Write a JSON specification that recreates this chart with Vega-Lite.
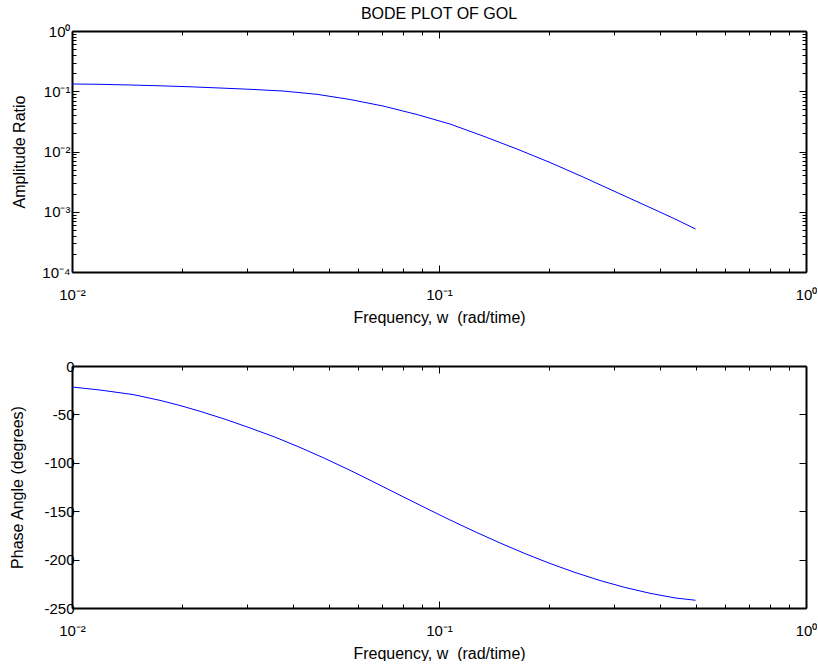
{
  "$schema": "https://vega.github.io/schema/vega-lite/v6.json",
  "background": "white",
  "padding": {"left": 9, "top": 6, "right": 0, "bottom": 0},
  "spacing": 94,
  "bounds": "flush",
  "config": {
    "view": {"stroke": null},
    "font": "Liberation Sans",
    "axis": {"grid": false, "domainColor": "black", "domainWidth": 2, "tickColor": "black", "tickWidth": 1, "labelColor": "black", "titleColor": "black", "labelFontSize": 15, "titleFontSize": 16, "titleFontWeight": "normal", "labelOverlap": false, "labelFlush": false, "labelFont": "Liberation Sans", "titleFont": "Liberation Sans"},
    "title": {"font": "Liberation Sans", "fontSize": 16, "fontWeight": "normal", "color": "black"}
  },
  "datasets": {
    "amp": [
      {"w": 0.01, "amp": 0.1319},
      {"w": 0.01192, "amp": 0.1304},
      {"w": 0.01439, "amp": 0.1270},
      {"w": 0.01737, "amp": 0.1231},
      {"w": 0.02097, "amp": 0.1186},
      {"w": 0.02531, "amp": 0.1132},
      {"w": 0.03055, "amp": 0.1077},
      {"w": 0.03758, "amp": 0.1009},
      {"w": 0.04652, "amp": 0.0890},
      {"w": 0.0572, "amp": 0.0730},
      {"w": 0.07037, "amp": 0.0569},
      {"w": 0.0871, "amp": 0.0411},
      {"w": 0.1071, "amp": 0.0286},
      {"w": 0.1318, "amp": 0.01808},
      {"w": 0.1631, "amp": 0.01100},
      {"w": 0.2007, "amp": 0.00657},
      {"w": 0.2469, "amp": 0.003773},
      {"w": 0.3055, "amp": 0.002087},
      {"w": 0.3758, "amp": 0.001176},
      {"w": 0.4397, "amp": 0.000758},
      {"w": 0.5, "amp": 0.000517}
    ],
    "phase": [
      {"w": 0.01, "phase": -21.7},
      {"w": 0.01192, "phase": -24.8},
      {"w": 0.01466, "phase": -29.5},
      {"w": 0.01737, "phase": -35.5},
      {"w": 0.01969, "phase": -40.8},
      {"w": 0.02233, "phase": -46.8},
      {"w": 0.02614, "phase": -55},
      {"w": 0.03055, "phase": -64},
      {"w": 0.03576, "phase": -73.5},
      {"w": 0.0418, "phase": -84.1},
      {"w": 0.04887, "phase": -95.5},
      {"w": 0.0572, "phase": -107.7},
      {"w": 0.06693, "phase": -120.5},
      {"w": 0.0783, "phase": -133.5},
      {"w": 0.09166, "phase": -146.4},
      {"w": 0.1071, "phase": -159},
      {"w": 0.1254, "phase": -171.2},
      {"w": 0.1466, "phase": -182.8},
      {"w": 0.1716, "phase": -193.8},
      {"w": 0.2007, "phase": -204},
      {"w": 0.2348, "phase": -213.3},
      {"w": 0.2746, "phase": -221.6},
      {"w": 0.3213, "phase": -228.8},
      {"w": 0.3758, "phase": -234.8},
      {"w": 0.4397, "phase": -239.6},
      {"w": 0.5, "phase": -242}
    ]
  },
  "vconcat": [
    {
      "width": 734,
      "height": 241,
      "data": {"name": "amp"},
      "title": {"text": "BODE PLOT OF GOL", "offset": -11, "baseline": "alphabetic", "frame": "group"},
      "layer": [
        {
          "mark": {"type": "line", "color": "#0000ff", "strokeWidth": 1},
          "encoding": {
            "x": {"field": "w", "type": "quantitative", "scale": {"type": "log", "domain": [0.01, 1], "nice": false},
              "axis": {"orient": "bottom", "values": [0.01,0.02,0.03,0.04,0.05,0.06,0.07,0.08,0.09,0.1,0.2,0.3,0.4,0.5,0.6,0.7,0.8,0.9,1],
                "labelExpr": "datum.value==1?'10⁰':datum.value==0.1?'10⁻¹':datum.value==0.01?'10⁻²':''",
                "tickSize": {"condition": {"test": "datum.value==1||datum.value==0.1||datum.value==0.01", "value": -7}, "value": -4},
                "labelPadding": 34, "labelBaseline": "alphabetic",
                "title": "Frequency, w\u00a0 (rad/time)", "titleY": 50, "titleBaseline": "alphabetic"}},
            "y": {"field": "amp", "type": "quantitative", "scale": {"type": "log", "domain": [0.0001, 1], "nice": false},
              "axis": {"orient": "left", "values": [0.0001,0.0002,0.0003,0.0004,0.0005,0.0006,0.0007,0.0008,0.0009,0.001,0.002,0.003,0.004,0.005,0.006,0.007,0.008,0.009,0.01,0.02,0.03,0.04,0.05,0.06,0.07,0.08,0.09,0.1,0.2,0.3,0.4,0.5,0.6,0.7,0.8,0.9,1],
                "labelExpr": "datum.value==1?'10⁰':datum.value==0.1?'10⁻¹':datum.value==0.01?'10⁻²':datum.value==0.001?'10⁻³':datum.value==0.0001?'10⁻⁴':''",
                "tickSize": {"condition": {"test": "datum.value==1||datum.value==0.1||datum.value==0.01||datum.value==0.001||datum.value==0.0001", "value": -7}, "value": -4},
                "labelPadding": 9, "labelAlign": "right", "labelBaseline": "middle",
                "title": "Amplitude Ratio", "titleX": -53, "titleY": 120.5, "titleBaseline": "middle", "titleAlign": "center", "titleAngle": -90}}
          }
        },
        {
          "mark": {"type": "line", "opacity": 0},
          "encoding": {
            "x": {"field": "w", "type": "quantitative", "scale": {"type": "log", "domain": [0.01, 1], "nice": false},
              "axis": {"orient": "top", "values": [0.01,0.02,0.03,0.04,0.05,0.06,0.07,0.08,0.09,0.1,0.2,0.3,0.4,0.5,0.6,0.7,0.8,0.9,1],
                "labels": false, "title": null,
                "tickSize": {"condition": {"test": "datum.value==1||datum.value==0.1||datum.value==0.01", "value": -7}, "value": -4}}},
            "y": {"field": "amp", "type": "quantitative", "scale": {"type": "log", "domain": [0.0001, 1], "nice": false},
              "axis": {"orient": "right", "values": [0.0001,0.0002,0.0003,0.0004,0.0005,0.0006,0.0007,0.0008,0.0009,0.001,0.002,0.003,0.004,0.005,0.006,0.007,0.008,0.009,0.01,0.02,0.03,0.04,0.05,0.06,0.07,0.08,0.09,0.1,0.2,0.3,0.4,0.5,0.6,0.7,0.8,0.9,1],
                "labels": false, "title": null,
                "tickSize": {"condition": {"test": "datum.value==1||datum.value==0.1||datum.value==0.01||datum.value==0.001||datum.value==0.0001", "value": -7}, "value": -4}}}
          }
        }
      ],
      "resolve": {"axis": {"x": "independent", "y": "independent"}}
    },
    {
      "width": 734,
      "height": 242,
      "data": {"name": "phase"},
      "layer": [
        {
          "mark": {"type": "line", "color": "#0000ff", "strokeWidth": 1},
          "encoding": {
            "x": {"field": "w", "type": "quantitative", "scale": {"type": "log", "domain": [0.01, 1], "nice": false},
              "axis": {"orient": "bottom", "values": [0.01,0.02,0.03,0.04,0.05,0.06,0.07,0.08,0.09,0.1,0.2,0.3,0.4,0.5,0.6,0.7,0.8,0.9,1],
                "labelExpr": "datum.value==1?'10⁰':datum.value==0.1?'10⁻¹':datum.value==0.01?'10⁻²':''",
                "tickSize": {"condition": {"test": "datum.value==1||datum.value==0.1||datum.value==0.01", "value": -7}, "value": -4},
                "labelPadding": 34, "labelBaseline": "alphabetic",
                "title": "Frequency, w\u00a0 (rad/time)", "titleY": 50, "titleBaseline": "alphabetic"}},
            "y": {"field": "phase", "type": "quantitative", "scale": {"domain": [-250, 0], "nice": false},
              "axis": {"orient": "left", "values": [-250,-200,-150,-100,-50,0],
                "labelExpr": "'' + datum.value",
                "tickSize": -7,
                "labelPadding": 5, "labelAlign": "right", "labelBaseline": "middle",
                "title": "Phase Angle (degrees)", "titleX": -54.5, "titleY": 121, "titleBaseline": "middle", "titleAlign": "center", "titleAngle": -90}}
          }
        },
        {
          "mark": {"type": "line", "opacity": 0},
          "encoding": {
            "x": {"field": "w", "type": "quantitative", "scale": {"type": "log", "domain": [0.01, 1], "nice": false},
              "axis": {"orient": "top", "values": [0.01,0.02,0.03,0.04,0.05,0.06,0.07,0.08,0.09,0.1,0.2,0.3,0.4,0.5,0.6,0.7,0.8,0.9,1],
                "labels": false, "title": null,
                "tickSize": {"condition": {"test": "datum.value==1||datum.value==0.1||datum.value==0.01", "value": -7}, "value": -4}}},
            "y": {"field": "phase", "type": "quantitative", "scale": {"domain": [-250, 0], "nice": false},
              "axis": {"orient": "right", "values": [-250,-200,-150,-100,-50,0],
                "labels": false, "title": null, "tickSize": -7}}
          }
        }
      ],
      "resolve": {"axis": {"x": "independent", "y": "independent"}}
    }
  ]
}
